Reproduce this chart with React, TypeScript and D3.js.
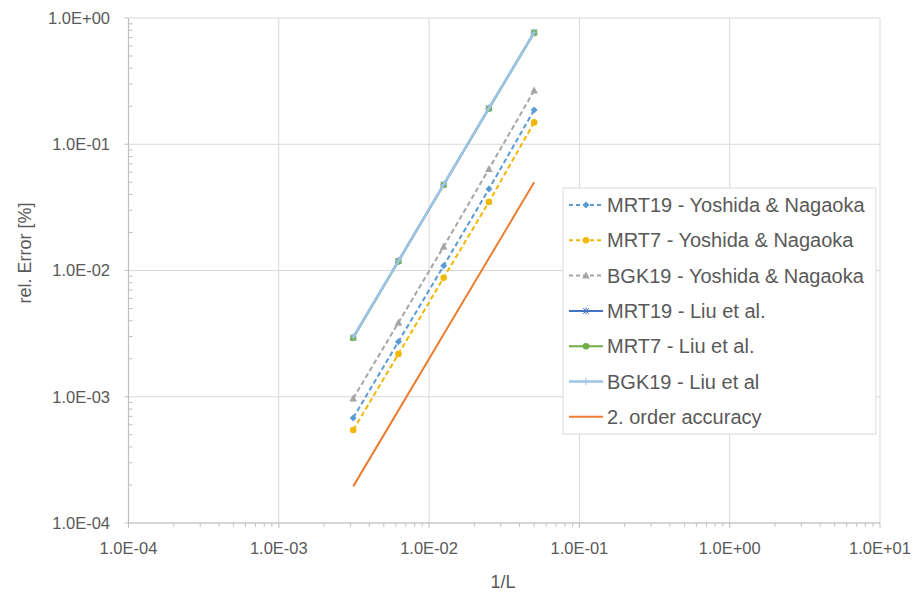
import * as d3 from 'd3';

const invL = [0.003125, 0.00625, 0.0125, 0.025, 0.05];
const mrt19Yoshida = [6.8e-4, 2.73e-3, 1.09e-2, 4.42e-2, 0.187];
const mrt7Yoshida = [5.45e-4, 2.18e-3, 8.77e-3, 3.49e-2, 0.149];
const bgk19Yoshida = [9.7e-4, 3.86e-3, 1.544e-2, 6.37e-2, 0.266];
const mrt19Liu = [2.95e-3, 1.19e-2, 4.8e-2, 0.193, 0.77];
const mrt7Liu = [2.92e-3, 1.18e-2, 4.76e-2, 0.191, 0.762];
const bgk19Liu = [2.96e-3, 1.19e-2, 4.8e-2, 0.193, 0.77];
const secondOrder = [1.95e-4, 7.8e-4, 3.12e-3, 1.25e-2, 0.05];

const xTicks = [1e-4, 1e-3, 1e-2, 1e-1, 1, 10];
const yTicks = [1e-4, 1e-3, 1e-2, 1e-1, 1];
const xTickLabels = ['1.0E-04', '1.0E-03', '1.0E-02', '1.0E-01', '1.0E+00', '1.0E+01'];
const yTickLabels = ['1.0E-04', '1.0E-03', '1.0E-02', '1.0E-01', '1.0E+00'];

type Marker = 'diamond' | 'circle' | 'triangle' | 'star' | 'plus' | 'none';

const series: { name: string; values: number[]; color: string; dashed: boolean; width: number; marker: Marker }[] = [
  { name: 'MRT19 - Yoshida & Nagaoka', values: mrt19Yoshida, color: '#5B9BD5', dashed: true, width: 2, marker: 'diamond' },
  { name: 'MRT7 - Yoshida & Nagaoka', values: mrt7Yoshida, color: '#F2B705', dashed: true, width: 2, marker: 'circle' },
  { name: 'BGK19 - Yoshida & Nagaoka', values: bgk19Yoshida, color: '#A5A5A5', dashed: true, width: 2, marker: 'triangle' },
  { name: 'MRT19 - Liu et al.', values: mrt19Liu, color: '#4472C4', dashed: false, width: 2, marker: 'star' },
  { name: 'MRT7 - Liu et al.', values: mrt7Liu, color: '#70AD47', dashed: false, width: 2, marker: 'circle' },
  { name: 'BGK19 - Liu et al', values: bgk19Liu, color: '#9DC3E6', dashed: false, width: 2.5, marker: 'plus' },
  { name: '2. order accuracy', values: secondOrder, color: '#ED7D31', dashed: false, width: 2, marker: 'none' },
];

const W = 916;
const H = 595;
const left = 128.5;
const right = 880;
const top = 18;
const bottom = 523;
const font = '"Liberation Sans", Arial, sans-serif';
const textColor = '#595959';

function MarkerShape({ type, x, y, color }: { type: Marker; x: number; y: number; color: string }) {
  if (type === 'diamond') {
    return <path d={`M${x},${y - 3.5}L${x + 3.5},${y}L${x},${y + 3.5}L${x - 3.5},${y}Z`} fill={color} />;
  }
  if (type === 'circle') {
    return <circle cx={x} cy={y} r={3.3} fill={color} />;
  }
  if (type === 'triangle') {
    return <path d={`M${x},${y - 4}L${x + 3.8},${y + 3}L${x - 3.8},${y + 3}Z`} fill={color} />;
  }
  if (type === 'star') {
    return (
      <path
        d={`M${x - 3},${y - 3}L${x + 3},${y + 3}M${x - 3},${y + 3}L${x + 3},${y - 3}M${x},${y - 3.5}L${x},${y + 3.5}`}
        stroke={color}
        strokeWidth={1}
      />
    );
  }
  if (type === 'plus') {
    return <path d={`M${x - 3.5},${y}L${x + 3.5},${y}M${x},${y - 3.5}L${x},${y + 3.5}`} stroke={color} strokeWidth={1} />;
  }
  return null;
}

export default function App() {
  const x = d3.scaleLog().domain([1e-4, 10]).range([left, right]);
  const y = d3.scaleLog().domain([1e-4, 1]).range([bottom, top]);

  const line = d3
    .line<number>()
    .x((_, i) => x(invL[i]))
    .y(d => y(d));

  const minorX: number[] = [];
  for (let e = -4; e < 1; e++) for (let m = 2; m <= 9; m++) minorX.push(m * Math.pow(10, e));
  const minorY: number[] = [];
  for (let e = -4; e < 0; e++) for (let m = 2; m <= 9; m++) minorY.push(m * Math.pow(10, e));

  const legX = 563;
  const legY = 188;
  const legRow = 35.3;

  return (
    <svg width={W} height={H} style={{ position: 'absolute', left: 0, top: 0, background: '#fff' }} fontFamily={font}>
      <rect width={W} height={H} fill="#fff" />
      {/* gridlines */}
      {xTicks.map(t => (
        <line key={`gx${t}`} x1={x(t)} x2={x(t)} y1={top} y2={bottom} stroke="#D9D9D9" strokeWidth={1} />
      ))}
      {yTicks.map(t => (
        <line key={`gy${t}`} x1={left} x2={right} y1={y(t)} y2={y(t)} stroke="#D9D9D9" strokeWidth={1} />
      ))}
      {/* axes */}
      <line x1={left} x2={left} y1={top} y2={bottom} stroke="#BFBFBF" strokeWidth={1.2} />
      <line x1={left} x2={right} y1={bottom} y2={bottom} stroke="#BFBFBF" strokeWidth={1.2} />
      {minorY.map(t => (
        <line key={`my${t}`} x1={left} x2={left + 4} y1={y(t)} y2={y(t)} stroke="#BFBFBF" />
      ))}
      {yTicks.map(t => (
        <line key={`ty${t}`} x1={left - 4} x2={left} y1={y(t)} y2={y(t)} stroke="#BFBFBF" />
      ))}
      {minorX.map(t => (
        <line key={`mx${t}`} x1={x(t)} x2={x(t)} y1={bottom} y2={bottom + 4} stroke="#BFBFBF" />
      ))}
      {xTicks.map(t => (
        <line key={`tx${t}`} x1={x(t)} x2={x(t)} y1={bottom} y2={bottom + 5} stroke="#BFBFBF" />
      ))}
      {/* tick labels */}
      {yTicks.map((t, i) => (
        <text key={`ly${t}`} x={110} y={y(t)} dy="0.35em" textAnchor="end" fontSize={16.5} fill={textColor}>
          {yTickLabels[i]}
        </text>
      ))}
      {xTicks.map((t, i) => (
        <text key={`lx${t}`} x={x(t)} y={548} dy="0.35em" textAnchor="middle" fontSize={16.5} fill={textColor}>
          {xTickLabels[i]}
        </text>
      ))}
      <text x={503} y={582} dy="0.35em" textAnchor="middle" fontSize={18} fill={textColor}>
        1/L
      </text>
      <text
        transform={`translate(25,253) rotate(-90)`}
        dy="0.35em"
        textAnchor="middle"
        fontSize={18}
        fill={textColor}
      >
        rel. Error [%]
      </text>
      {/* series */}
      {series.map(s => (
        <g key={s.name}>
          <path
            d={line(s.values) || ''}
            fill="none"
            stroke={s.color}
            strokeWidth={s.width}
            strokeDasharray={s.dashed ? '5,3' : undefined}
          />
          {s.values.map((v, i) => (
            <MarkerShape key={i} type={s.marker} x={x(invL[i])} y={y(v)} color={s.color} />
          ))}
        </g>
      ))}
      {/* legend */}
      <rect x={legX} y={legY} width={313} height={246} fill="#fff" stroke="#D9D9D9" />
      {series.map((s, i) => {
        const cy = legY + 17 + i * legRow;
        return (
          <g key={`leg${s.name}`}>
            <line
              x1={legX + 6}
              x2={legX + 40}
              y1={cy}
              y2={cy}
              stroke={s.color}
              strokeWidth={s.width}
              strokeDasharray={s.dashed ? '4,3' : undefined}
            />
            <MarkerShape type={s.marker} x={legX + 23} y={cy} color={s.color} />
            <text x={legX + 44} y={cy} dy="0.35em" fontSize={20} fill={textColor}>
              {s.name}
            </text>
          </g>
        );
      })}
    </svg>
  );
}
